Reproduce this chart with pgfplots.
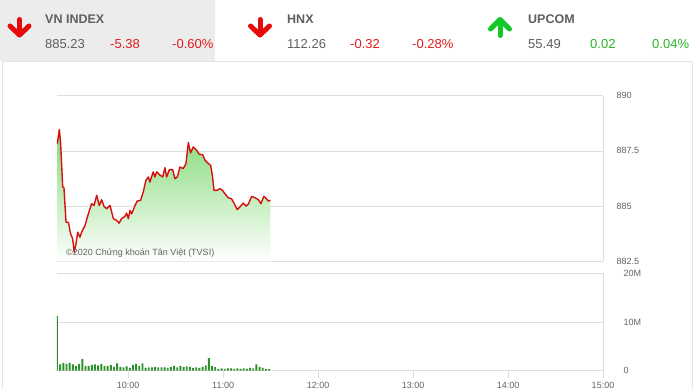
\documentclass[border=0pt]{standalone}
\usepackage{fontspec}
\setmainfont{Liberation Sans}
\usepackage{pgfplots}
\usepackage{pgfplotstable}
\pgfplotsset{compat=1.18}
\definecolor{hdrgray}{RGB}{236,236,236}
\definecolor{cardline}{RGB}{228,228,228}
\definecolor{gridgray}{RGB}{222,222,222}
\definecolor{labelgray}{RGB}{100,100,100}
\definecolor{namegray}{RGB}{95,95,95}
\definecolor{negred}{RGB}{225,30,30}
\definecolor{posgreen}{RGB}{40,180,40}
\definecolor{arrred}{RGB}{230,10,10}
\definecolor{arrgreen}{RGB}{20,200,40}
\definecolor{linered}{RGB}{215,15,15}
\definecolor{fillgreen}{RGB}{130,218,118}
\definecolor{volgreen}{RGB}{45,145,45}

\pgfplotstableread{
t v
15.2 887.83
16.5 888.47
17.3 887.83
18.6 885.87
19.4 885.83
20.7 884.27
22.2 884.27
23.6 883.74
24.9 883.52
25.9 882.91
27.0 883.29
28.1 883.82
29.5 883.59
30.6 883.82
32.7 884.12
34.8 884.65
36.9 885.11
38.4 885.03
40.1 885.49
41.7 885.03
43.2 885.29
44.7 884.99
46.4 884.88
48.5 885.03
50.6 884.43
52.7 884.35
54.2 884.23
55.8 884.43
57.9 884.53
59.0 884.68
60.1 884.43
61.1 884.80
62.2 884.65
64.3 885.03
65.7 885.23
67.8 885.26
69.5 885.64
71.2 886.17
72.7 886.32
73.7 886.09
75.8 886.55
76.9 886.32
78.0 886.55
80.1 886.40
81.8 886.32
83.2 886.74
84.3 886.32
86.0 886.65
88.1 886.65
89.5 886.24
91.0 886.32
92.7 886.77
94.8 886.70
96.5 886.93
98.0 887.88
99.4 887.41
101.1 887.68
103.2 887.53
104.9 887.35
107.0 887.33
108.5 887.08
110.6 886.93
112.1 886.85
113.3 886.32
114.2 885.71
115.9 885.71
118.0 885.79
119.6 885.71
121.1 885.56
123.2 885.38
125.3 885.33
126.8 885.14
128.9 884.84
130.6 884.96
132.7 885.14
134.4 885.00
135.8 885.08
138.0 885.44
140.1 885.38
142.2 885.29
143.8 885.11
145.7 885.44
147.4 885.33
148.5 885.23
149.9 885.26
}\price

\pgfplotstableread{
t m
15 11.2
17 1.3
19 1.6
21 1.4
23 1.6
25 1.3
27 1.0
29 1.4
31 2.4
33 1.0
35 1.0
37 1.2
39 1.3
41 1.1
43 1.4
45 1.0
47 1.0
49 1.2
51 0.8
53 1.5
55 0.8
57 0.7
59 0.9
61 0.6
63 1.2
65 1.4
67 1.0
69 1.5
71 0.6
73 0.7
75 0.7
77 0.8
79 0.7
81 0.7
83 0.7
85 0.6
87 0.8
89 1.0
91 0.7
93 1.0
95 0.8
97 0.9
99 0.8
101 0.6
103 0.7
105 0.6
107 0.8
109 1.1
111 2.6
113 1.0
115 0.8
117 0.4
119 0.5
121 0.4
123 0.5
125 0.5
127 0.4
129 0.5
131 0.4
133 0.5
135 0.4
137 0.6
139 0.5
141 1.3
143 0.8
145 0.6
147 0.4
149 0.3
}\volume

\begin{document}
\begin{tikzpicture}[x=1pt,y=1pt]
\fill[white] (0,0) rectangle (696,389);
\fill[hdrgray] (0,328) rectangle (215,389);
\draw[cardline, line width=0.8pt] (2.5,0) -- (2.5,328) -- (692,328) -- (692,0);

% arrows
\begin{scope}[line width=5pt, line cap=round, line join=round]
\draw[arrred] (19.5,369.5) -- (19.5,354.5);
\draw[arrred] (10,363) -- (19.5,354) -- (29,363);
\draw[arrred] (260,369.5) -- (260,354.5);
\draw[arrred] (250.5,363) -- (260,354) -- (269.5,363);
\draw[arrgreen] (500,353.5) -- (500,368.5);
\draw[arrgreen] (490.5,360) -- (500,369.5) -- (509.5,360);
\end{scope}

% header texts
\begin{scope}[every node/.style={anchor=base west, inner sep=0pt}]
\node[text=namegray, font=\fontsize{12.5}{14}\selectfont\bfseries] at (45,365) {VN INDEX};
\node[text=namegray, font=\fontsize{13}{15}\selectfont] at (45,340) {885.23};
\node[text=negred, font=\fontsize{13}{15}\selectfont] at (110,340) {-5.38};
\node[text=negred, font=\fontsize{13}{15}\selectfont] at (172,340) {-0.60\%};
\node[text=namegray, font=\fontsize{12.5}{14}\selectfont\bfseries] at (287,365) {HNX};
\node[text=namegray, font=\fontsize{13}{15}\selectfont] at (287,340) {112.26};
\node[text=negred, font=\fontsize{13}{15}\selectfont] at (350,340) {-0.32};
\node[text=negred, font=\fontsize{13}{15}\selectfont] at (412,340) {-0.28\%};
\node[text=namegray, font=\fontsize{12.5}{14}\selectfont\bfseries] at (528,365) {UPCOM};
\node[text=namegray, font=\fontsize{13}{15}\selectfont] at (528,340) {55.49};
\node[text=posgreen, font=\fontsize{13}{15}\selectfont] at (590,340) {0.02};
\node[text=posgreen, font=\fontsize{13}{15}\selectfont] at (652,340) {0.04\%};
\end{scope}

\pgfplotsset{
  panel/.style={
    anchor=south west, scale only axis, width=546pt,
    xmin=15, xmax=360,
    axis x line*=box, axis y line*=right,
    axis line style={gridgray, line width=0.8pt},
    ymajorgrids, grid style={gridgray, line width=0.7pt},
    ytick style={draw=none},
    /pgf/number format/assume math mode=true,
    yticklabel style={anchor=west, xshift=10pt, text=labelgray, font=\fontsize{9}{10}\selectfont},
    xticklabel style={text=labelgray, font=\fontsize{9}{10}\selectfont, yshift=-1pt},
  }
}

\begin{axis}[panel, at={(57pt,127.7pt)}, height=165.6pt,
  ymin=882.5, ymax=890, ytick={882.5,885,887.5,890},
  yticklabels={882.5,885,887.5,890},
  xtick=\empty]
\addplot[draw=none, top color=fillgreen, bottom color=white] table[x=t,y=v]{\price} |- (axis cs:15.2,882.5) -- cycle;
\addplot[linered, line width=1.4pt, line join=round] table[x=t,y=v]{\price};
\end{axis}

\node[anchor=west, inner sep=0pt, text=labelgray, font=\fontsize{9}{10}\selectfont] at (66,136) {©2020 Chứng khoán Tân Việt (TVSI)};

\begin{axis}[panel, at={(57pt,18.3pt)}, height=97.4pt,
  ymin=0, ymax=20, ytick={0,10,20}, yticklabels={0,10M,20M},
  xtick={60,120,180,240,300,360},
  xticklabels={10:00,11:00,12:00,13:00,14:00,15:00},
  xtick pos=left, tick align=outside, major tick length=7pt,
  xtick style={gridgray, line width=0.8pt}]
\addplot[ybar, bar width=1.9pt, fill=volgreen, draw=none] table[x=t,y=m]{\volume};
\end{axis}

\pgfresetboundingbox
\path[use as bounding box] (0,0) rectangle (696,389);
\end{tikzpicture}
\end{document}
